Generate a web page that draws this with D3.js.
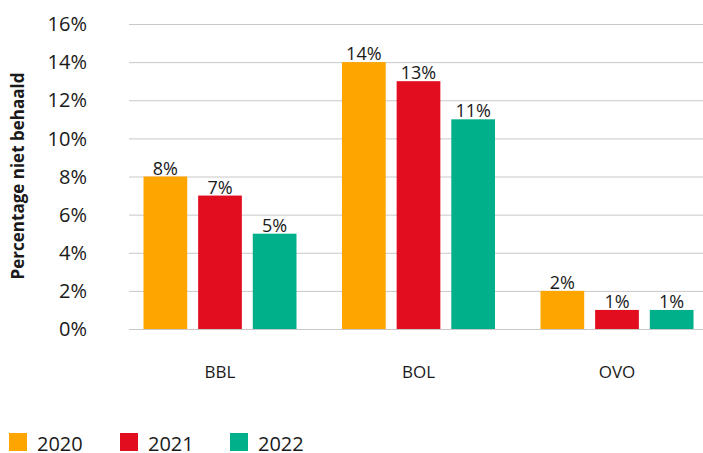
<!DOCTYPE html>
<html>
<head>
<meta charset="utf-8">
<script src="https://cdn.jsdelivr.net/npm/d3@7"></script>
<style>
	body { margin: 0; background: #fff; }
	text { font-family: "Open Sans", sans-serif; fill: #1a1a1a; }
</style>
</head>
<body>
<div id="chart"></div>
<script>
'use strict'
var categories = ["BBL", "BOL", "OVO"];
var years = ["2020", "2021", "2022"];
var values2020 = [8, 14, 2];
var values2021 = [7, 13, 1];
var values2022 = [5, 11, 1];
var yTicks = [0, 2, 4, 6, 8, 10, 12, 14, 16];
var colors = ["#FFA500", "#E20D1E", "#00B08A"];

var w = 703, h = 453;
var svg = d3.select("#chart").append("svg").attr("width", w).attr("height", h);

var series = [values2020, values2021, values2022];
var data = categories.map(function(c, i) {
	return { cat: c, vals: years.map(function(y, j) { return { year: y, v: series[j][i], idx: j }; }) };
});

var x = d3.scaleBand().domain(categories).range([120.75, 716.25]);
var xInner = d3.scaleBand().domain(years).range([0, 153]).paddingInner(0.2);
var y = d3.scaleLinear().domain([0, 16]).range([329, 24]);

// gridlines
svg.append("g").selectAll("line")
	.data(yTicks).enter().append("line")
	.attr("x1", 129).attr("x2", w)
	.attr("y1", function(d) { return y(d) + 0.5; })
	.attr("y2", function(d) { return y(d) + 0.5; })
	.style("stroke", "#c8c8c8").style("stroke-width", 1);

// y tick labels
svg.append("g").selectAll("text")
	.data(yTicks).enter().append("text")
	.attr("x", 87).attr("y", function(d) { return y(d); })
	.attr("dy", "0.36em").attr("text-anchor", "end")
	.style("font-size", "20px")
	.text(function(d) { return d + "%"; });

// y axis title
svg.append("text")
	.attr("transform", "translate(24," + 176 + ") rotate(-90)")
	.attr("text-anchor", "middle")
	.style("font-size", "17px").style("font-weight", "bold")
	.text("Percentage niet behaald");

var groups = svg.append("g").selectAll("g")
	.data(data).enter().append("g")
	.attr("transform", function(d) { return "translate(" + (x(d.cat) + (x.bandwidth() - 153) / 2) + ",0)"; });

groups.selectAll("rect")
	.data(function(d) { return d.vals; }).enter().append("rect")
	.attr("x", function(d) { return xInner(d.year); })
	.attr("y", function(d) { return y(d.v); })
	.attr("width", xInner.bandwidth())
	.attr("height", function(d) { return y(0) - y(d.v); })
	.style("fill", function(d) { return colors[d.idx]; });

groups.selectAll("text.val")
	.data(function(d) { return d.vals; }).enter().append("text")
	.attr("class", "val")
	.attr("x", function(d) { return xInner(d.year) + xInner.bandwidth() / 2; })
	.attr("y", function(d) { return y(d.v) - 2; })
	.attr("text-anchor", "middle")
	.style("font-size", "18px")
	.text(function(d) { return d.v + "%"; });

// category labels
svg.append("g").selectAll("text")
	.data(categories).enter().append("text")
	.attr("x", function(d) { return x(d) + x.bandwidth() / 2; })
	.attr("y", 378)
	.attr("text-anchor", "middle")
	.style("font-size", "17px")
	.text(function(d) { return d; });

// legend
var legendX = [9, 120, 230];
var legend = svg.append("g").selectAll("g")
	.data(years).enter().append("g")
	.attr("transform", function(d, i) { return "translate(" + legendX[i] + ",433)"; });
legend.append("rect")
	.attr("width", 18).attr("height", 18)
	.style("fill", function(d, i) { return colors[i]; });
legend.append("text")
	.attr("x", 28).attr("y", 17.5)
	.style("font-size", "20px")
	.text(function(d) { return d; });
</script>
</body>
</html>
